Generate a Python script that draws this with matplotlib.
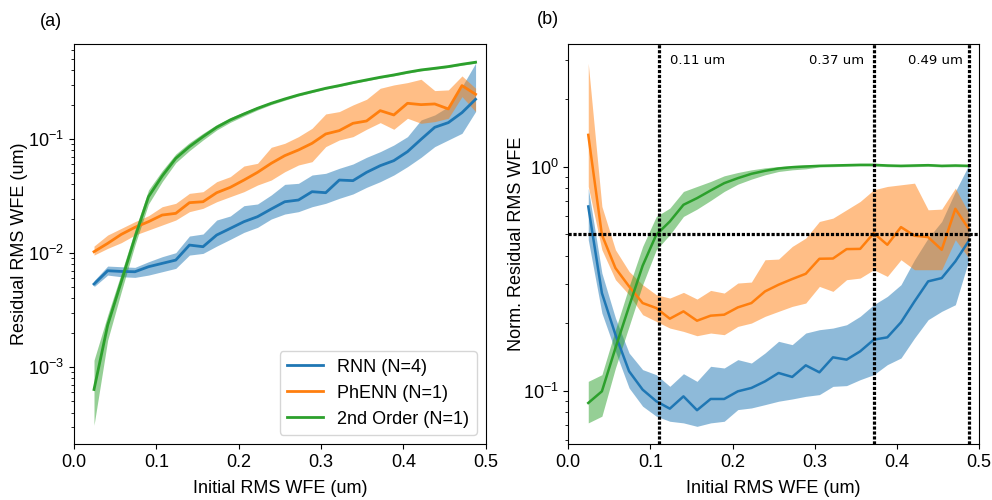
import numpy as np
import matplotlib
matplotlib.use("Agg")
import matplotlib.pyplot as plt

plt.rcParams['font.family'] = ['Liberation Sans', 'DejaVu Sans']

# ---------------- data ----------------
x_rms = [0.0243, 0.0409, 0.0574, 0.0740, 0.0905, 0.1071, 0.1236, 0.1402, 0.1567, 0.1733,
         0.1898, 0.2064, 0.2229, 0.2395, 0.2560, 0.2726, 0.2891, 0.3057, 0.3222, 0.3388,
         0.3553, 0.3719, 0.3884, 0.4050, 0.4215, 0.4381, 0.4546, 0.4712, 0.4877]

series_labels = ["RNN (N=4)", "PhENN (N=1)", "2nd Order (N=1)"]

# Panel (a): residual RMS WFE (um)
rnn_a = [0.00535, 0.00700, 0.00690, 0.00686, 0.00759, 0.00812, 0.00868, 0.01175, 0.01137, 0.01439,
         0.01645, 0.01884, 0.02084, 0.02432, 0.02818, 0.02917, 0.03451, 0.03381, 0.04365, 0.04312,
         0.05100, 0.05834, 0.06456, 0.07741, 0.0993, 0.1266, 0.1391, 0.1702, 0.2228]
rnn_a_hi = [0.00572, 0.00769, 0.00759, 0.00749, 0.00839, 0.00929, 0.01007, 0.01410, 0.01469, 0.01947,
            0.02113, 0.02602, 0.02692, 0.03228, 0.04002, 0.04085, 0.04831, 0.05000, 0.05531, 0.06034,
            0.06905, 0.07741, 0.0885, 0.1048, 0.1468, 0.1624, 0.1921, 0.2877, 0.4610]
rnn_a_lo = [0.00507, 0.00641, 0.00620, 0.00612, 0.00641, 0.00686, 0.00734, 0.00960, 0.00993, 0.01151,
            0.01318, 0.01518, 0.01680, 0.01987, 0.02198, 0.02306, 0.02548, 0.02728, 0.03018, 0.03296,
            0.03767, 0.04224, 0.04831, 0.05717, 0.06905, 0.0857, 0.0980, 0.1121, 0.1738]

phenn_a = [0.01028, 0.01216, 0.01458, 0.01680, 0.01884, 0.02154, 0.02229, 0.02765, 0.02818, 0.03381,
           0.03767, 0.04365, 0.05100, 0.06118, 0.07145, 0.08008, 0.09162, 0.1106, 0.1184, 0.1372,
           0.1438, 0.1772, 0.1624, 0.2055, 0.2000, 0.2028, 0.1834, 0.2938, 0.2465]
phenn_a_hi = [0.01151, 0.01439, 0.01645, 0.01884, 0.02125, 0.02548, 0.02728, 0.03336, 0.03451, 0.04224,
              0.04673, 0.05794, 0.06118, 0.08449, 0.09162, 0.1048, 0.1240, 0.1657, 0.1738, 0.1988,
              0.2228, 0.2782, 0.2976, 0.3120, 0.3337, 0.2655, 0.2692, 0.3570, 0.2782]
phenn_a_lo = [0.00960, 0.01099, 0.01233, 0.01439, 0.01591, 0.01761, 0.01947, 0.02306, 0.02466, 0.02818,
              0.03120, 0.03451, 0.03948, 0.04365, 0.05165, 0.05915, 0.06324, 0.0857, 0.0980, 0.1048,
              0.1216, 0.1391, 0.1216, 0.1518, 0.1372, 0.1420, 0.1518, 0.2351, 0.1738]

second_a = [0.000637, 0.002336, 0.005608, 0.01372, 0.03120, 0.04733, 0.06766, 0.0857, 0.1048, 0.1266,
            0.1468, 0.1657, 0.1858, 0.2055, 0.2243, 0.2431, 0.2602, 0.2782, 0.2938, 0.3120,
            0.3294, 0.3475, 0.3641, 0.3843, 0.4029, 0.4165, 0.4313, 0.4518, 0.4707]
second_a_hi = [0.00115, 0.002858, 0.006637, 0.01591, 0.03573, 0.05275, 0.07382, 0.0929, 0.1121, 0.1336,
               0.1539, 0.1725, 0.1921, 0.2112, 0.2305, 0.248, 0.265, 0.284, 0.300, 0.318,
               0.336, 0.354, 0.371, 0.392, 0.411, 0.425, 0.440, 0.461, 0.480]
second_a_lo = [0.000310, 0.001725, 0.004578, 0.01175, 0.02692, 0.04224, 0.06195, 0.0790, 0.0980, 0.1199,
               0.1400, 0.1591, 0.1796, 0.2000, 0.2184, 0.238, 0.255, 0.273, 0.288, 0.306,
               0.323, 0.341, 0.357, 0.377, 0.395, 0.408, 0.423, 0.443, 0.461]

# Panel (b): normalised residual RMS WFE
rnn_b = [0.6633, 0.2725, 0.1777, 0.1220, 0.1010, 0.0897, 0.0831, 0.0943, 0.0818, 0.0918,
         0.0918, 0.0993, 0.1028, 0.1100, 0.1199, 0.1151, 0.1297, 0.1207, 0.1408, 0.1375,
         0.1497, 0.1688, 0.1729, 0.2017, 0.2501, 0.3073, 0.3178, 0.3772, 0.4663]
rnn_b_hi = [0.8006, 0.3345, 0.2108, 0.1472, 0.1241, 0.1178, 0.1045, 0.1190, 0.1100, 0.1284,
            0.1262, 0.1375, 0.1328, 0.1472, 0.1660, 0.1604, 0.1807, 0.1870, 0.1902, 0.1968,
            0.2145, 0.2417, 0.2633, 0.2969, 0.3837, 0.4793, 0.5685, 0.7739, 1.017]
rnn_b_lo = [0.4712, 0.2219, 0.1497, 0.1028, 0.0852, 0.0769, 0.0730, 0.0718, 0.0693, 0.0718,
            0.0730, 0.0823, 0.0837, 0.0866, 0.0897, 0.0918, 0.0943, 0.0960, 0.1045, 0.1053,
            0.1119, 0.1178, 0.1306, 0.1398, 0.1717, 0.2073, 0.2258, 0.2417, 0.3837]

phenn_b = [1.384, 0.4960, 0.3522, 0.2918, 0.2459, 0.2336, 0.2094, 0.2258, 0.2051, 0.2160,
           0.2182, 0.2352, 0.2459, 0.2772, 0.2969, 0.3147, 0.3322, 0.3876, 0.3885, 0.4280,
           0.4290, 0.5045, 0.4474, 0.5366, 0.4909, 0.4842, 0.4251, 0.6475, 0.5256]
phenn_b_hi = [2.888, 0.6633, 0.4251, 0.3403, 0.2969, 0.2679, 0.2588, 0.2744, 0.2562, 0.2800,
              0.2725, 0.3020, 0.3051, 0.3837, 0.3863, 0.4398, 0.4793, 0.5685, 0.5884, 0.6410,
              0.6982, 0.7870, 0.8146, 0.8286, 0.8427, 0.6410, 0.6454, 0.8006, 0.6194]
phenn_b_lo = [0.8146, 0.4251, 0.3126, 0.2679, 0.2182, 0.2037, 0.1902, 0.1838, 0.1758, 0.1807,
              0.1777, 0.1935, 0.2002, 0.2145, 0.2258, 0.2376, 0.2459, 0.2918, 0.2772, 0.3126,
              0.3178, 0.3463, 0.3233, 0.3837, 0.3463, 0.3463, 0.3463, 0.4712, 0.3903]

second_b = [0.0881, 0.0993, 0.1549, 0.2376, 0.3608, 0.4960, 0.5685, 0.6748, 0.7225, 0.7816,
            0.8427, 0.8871, 0.9275, 0.9565, 0.9797, 0.9932, 1.0000, 1.0069, 1.0103, 1.0138,
            1.0172, 1.0172, 1.0103, 1.0069, 1.0103, 1.0138, 1.0069, 1.0103, 1.0069]
second_b_hi = [0.1100, 0.1178, 0.1870, 0.2918, 0.4398, 0.5986, 0.6521, 0.7739, 0.8146, 0.8573,
               0.9086, 0.9402, 0.9663, 0.9864, 1.0000, 1.0103, 1.0172, 1.019, 1.022, 1.026,
               1.029, 1.029, 1.022, 1.019, 1.022, 1.026, 1.019, 1.022, 1.019]
second_b_lo = [0.0718, 0.0769, 0.1262, 0.1935, 0.2969, 0.4251, 0.4960, 0.5986, 0.6454, 0.7053,
               0.7739, 0.8341, 0.8782, 0.9180, 0.9500, 0.9663, 0.9763, 0.995, 0.998, 1.002,
               1.005, 1.005, 0.998, 0.995, 0.998, 1.002, 0.995, 0.998, 0.995]

threshold = 0.5
vline_x = [0.11, 0.3719, 0.4877]
vline_labels = ["0.11 um", "0.37 um", "0.49 um"]

# ---------------- plot ----------------
colors = ["#1f77b4", "#ff7f0e", "#2ca02c"]
FS = 13
DOT = (0, (1, 0.55))

fig = plt.figure(figsize=(9.92, 5.0), dpi=100)
ax_a = fig.add_axes([74 / 992, 56 / 500, 411.7 / 992, 400 / 500])
ax_b = fig.add_axes([568.3 / 992, 56 / 500, 410.7 / 992, 400 / 500])

data_a = [(rnn_a, rnn_a_lo, rnn_a_hi), (phenn_a, phenn_a_lo, phenn_a_hi), (second_a, second_a_lo, second_a_hi)]
data_b = [(rnn_b, rnn_b_lo, rnn_b_hi), (phenn_b, phenn_b_lo, phenn_b_hi), (second_b, second_b_lo, second_b_hi)]

for (m, lo, hi), c, lab in zip(data_a, colors, series_labels):
    ax_a.plot(x_rms, m, color=c, lw=2, label=lab)
    ax_a.fill_between(x_rms, lo, hi, color=c, alpha=0.5, lw=0)
for (m, lo, hi), c in zip(data_b, colors):
    ax_b.plot(x_rms, m, color=c, lw=1.8)
    ax_b.fill_between(x_rms, lo, hi, color=c, alpha=0.5, lw=0)

for ax in (ax_a, ax_b):
    ax.set_yscale("log")
    ax.set_xlim(0, 0.5)
    ax.set_xticks([0.0, 0.1, 0.2, 0.3, 0.4, 0.5])
    ax.tick_params(labelsize=FS)
    ax.set_xlabel("Initial RMS WFE (um)", fontsize=FS, labelpad=7)

ax_a.set_ylim(2.12e-4, 0.68)
ax_a.set_ylabel("Residual RMS WFE (um)", fontsize=FS, labelpad=0)
leg = ax_a.legend(loc="lower right", fontsize=FS, handlelength=2.0)

ax_b.set_ylim(0.0578, 3.52)
ax_b.set_ylabel("Norm. Residual RMS WFE", fontsize=FS, labelpad=-2)
ax_b.axhline(threshold, color="black", ls=DOT, lw=2.3)
for xv in vline_x:
    ax_b.axvline(xv, color="black", ls=DOT, lw=2.3)
ax_b.text(0.124, 2.96, vline_labels[0], ha="left", va="center", fontsize=9.5, family="DejaVu Sans")
ax_b.text(0.360, 2.96, vline_labels[1], ha="right", va="center", fontsize=9.5, family="DejaVu Sans")
ax_b.text(0.4805, 2.96, vline_labels[2], ha="right", va="center", fontsize=9.5, family="DejaVu Sans")

fig.text(40 / 992, 1 - 22 / 500, "(a)", fontsize=FS, va="center", ha="left")
fig.text(537 / 992, 1 - 20 / 500, "(b)", fontsize=FS, va="center", ha="left")

fig.savefig("out.png", dpi=100)
